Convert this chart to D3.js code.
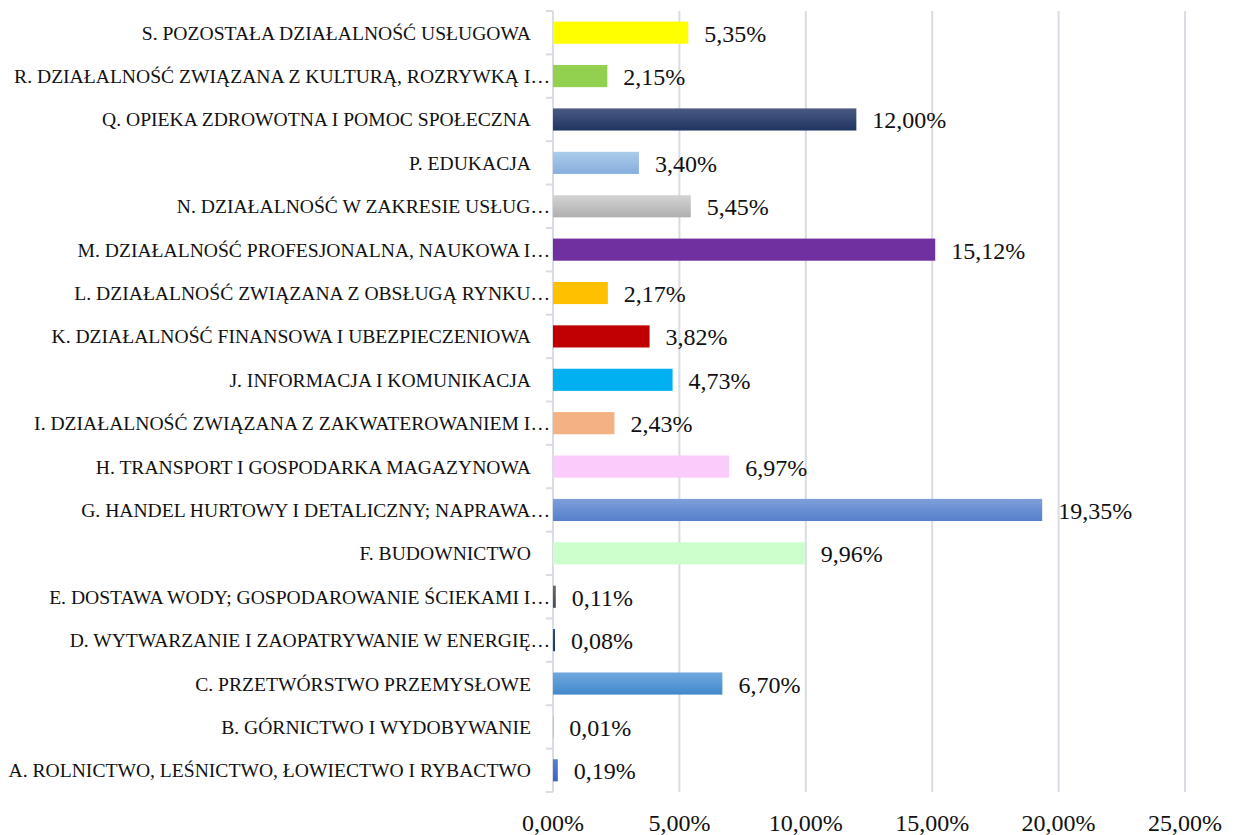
<!DOCTYPE html>
<html><head><meta charset="utf-8">
<script src="https://cdn.jsdelivr.net/npm/d3@7/dist/d3.min.js"></script>
<style>body{margin:0;background:#fff}</style>
</head><body><svg id="c" width="1235" height="835"></svg>
<script>
const categories = [
 "S. POZOSTAŁA DZIAŁALNOŚĆ USŁUGOWA",
 "R. DZIAŁALNOŚĆ ZWIĄZANA Z KULTURĄ, ROZRYWKĄ I…",
 "Q. OPIEKA ZDROWOTNA I POMOC SPOŁECZNA",
 "P. EDUKACJA",
 "N. DZIAŁALNOŚĆ W ZAKRESIE USŁUG…",
 "M. DZIAŁALNOŚĆ PROFESJONALNA, NAUKOWA I…",
 "L. DZIAŁALNOŚĆ ZWIĄZANA Z OBSŁUGĄ RYNKU…",
 "K. DZIAŁALNOŚĆ FINANSOWA I UBEZPIECZENIOWA",
 "J. INFORMACJA I KOMUNIKACJA",
 "I. DZIAŁALNOŚĆ ZWIĄZANA Z ZAKWATEROWANIEM I…",
 "H. TRANSPORT I GOSPODARKA MAGAZYNOWA",
 "G. HANDEL HURTOWY I DETALICZNY; NAPRAWA…",
 "F. BUDOWNICTWO",
 "E. DOSTAWA WODY; GOSPODAROWANIE ŚCIEKAMI I…",
 "D. WYTWARZANIE I ZAOPATRYWANIE W ENERGIĘ…",
 "C. PRZETWÓRSTWO PRZEMYSŁOWE",
 "B. GÓRNICTWO I WYDOBYWANIE",
 "A. ROLNICTWO, LEŚNICTWO, ŁOWIECTWO I RYBACTWO"
];
const values = [5.35, 2.15, 12.00, 3.40, 5.45, 15.12, 2.17, 3.82, 4.73, 2.43, 6.97, 19.35, 9.96, 0.11, 0.08, 6.70, 0.01, 0.19];
const barColors = [
 ["#FFFF00","#FFFF00"], ["#92D050","#92D050"], ["#4A5A82","#1F3462"], ["#ABCDEC","#86ADDC"],
 ["#D4D4D4","#AFAFAF"], ["#7030A0","#7030A0"], ["#FFC000","#FFC000"], ["#C00000","#C00000"],
 ["#00B0F0","#00B0F0"], ["#F4B183","#F4B183"], ["#FBCBFB","#FBCBFB"], ["#7E9FDB","#5580CA"],
 ["#CCFFCC","#CCFFCC"], ["#6A6A6A","#4A4A4A"], ["#2A4A8A","#1F3864"], ["#70A8DE","#4189CC"],
 ["#5A7FCC","#5A7FCC"], ["#5A80D0","#3A62C0"]
];
const xTicks = [0, 5, 10, 15, 20, 25];
const fmt = v => v.toFixed(2).replace(".", ",") + "%";

const svg = d3.select("#c");
const x0 = 553, x1 = 1185, yTop = 11, yBot = 792;
const x = d3.scaleLinear().domain([0, 25]).range([x0, x1]);
const y = d3.scaleBand().domain(categories).range([yTop, yBot]).paddingInner(0.49).paddingOuter(0.245);
const font = "'Liberation Serif', 'DejaVu Serif', serif";

const defs = svg.append("defs");
barColors.forEach((c, i) => {
  const g = defs.append("linearGradient").attr("id", "g" + i).attr("x1", 0).attr("y1", 0).attr("x2", 0).attr("y2", 1);
  g.append("stop").attr("offset", "0%").attr("stop-color", c[0]);
  g.append("stop").attr("offset", "100%").attr("stop-color", c[1]);
});

// gridlines
svg.append("g").selectAll("line").data(xTicks.slice(1)).join("line")
  .attr("x1", d => x(d)).attr("x2", d => x(d)).attr("y1", yTop).attr("y2", yBot)
  .attr("stroke", "#D9DCE3").attr("stroke-width", 2);

// category axis line and ticks
const step = y.step();
svg.append("line").attr("x1", x0).attr("x2", x0).attr("y1", yTop).attr("y2", yBot)
  .attr("stroke", "#D9DCE3").attr("stroke-width", 2);
svg.append("g").selectAll("line").data(d3.range(categories.length + 1)).join("line")
  .attr("x1", x0 - 7).attr("x2", x0).attr("y1", i => yTop + i * step).attr("y2", i => yTop + i * step)
  .attr("stroke", "#D9DCE3").attr("stroke-width", 2);

// bars
svg.append("g").selectAll("rect").data(values).join("rect")
  .attr("x", x0).attr("y", (d, i) => y(categories[i]))
  .attr("width", d => x(d) - x0).attr("height", y.bandwidth())
  .attr("fill", (d, i) => `url(#g${i})`);

// value labels
svg.append("g").selectAll("text").data(values).join("text")
  .attr("x", d => x(d) + 16).attr("y", (d, i) => y(categories[i]) + y.bandwidth() / 2 + 9)
  .attr("font-family", font).attr("font-size", 24).attr("fill", "#111")
  .text(d => fmt(d));

// category labels
svg.append("g").selectAll("text").data(categories).join("text")
  .attr("x", d => d.endsWith("…") ? 550 : 531)
  .attr("y", d => y(d) + y.bandwidth() / 2 + 7)
  .attr("text-anchor", "end")
  .attr("font-family", font).attr("font-size", 19.6).attr("fill", "#111")
  .text(d => d);

// x tick labels
svg.append("g").selectAll("text").data(xTicks).join("text")
  .attr("x", d => x(d)).attr("y", 831).attr("text-anchor", "middle")
  .attr("font-family", font).attr("font-size", 24).attr("fill", "#111")
  .text(d => fmt(d));
</script></body></html>
